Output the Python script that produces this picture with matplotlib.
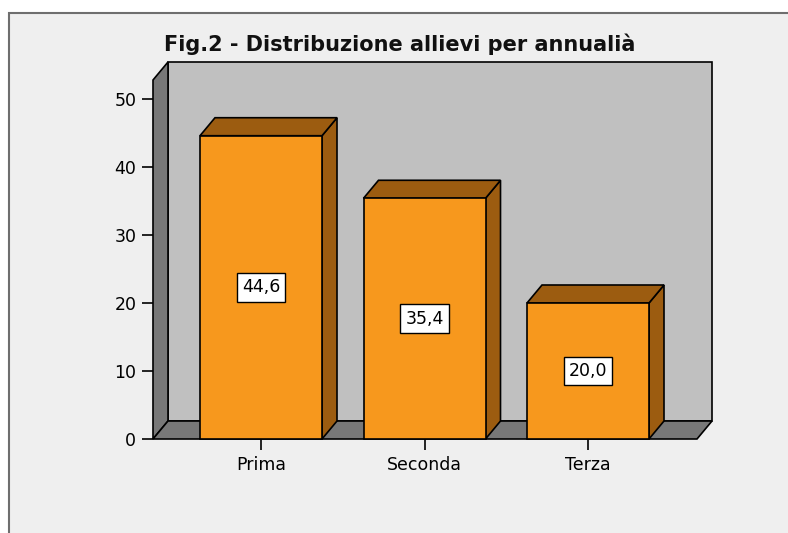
import matplotlib.pyplot as plt
from matplotlib.patches import Polygon, Rectangle

categories = ["Prima", "Seconda", "Terza"]
values = [44.6, 35.4, 20.0]
labels = ["44,6", "35,4", "20,0"]
yticks = [0, 10, 20, 30, 40, 50]
title = "Fig.2 - Distribuzione allievi per annualià"

W, H = 788, 533
fig = plt.figure(figsize=(W / 100, H / 100), dpi=100)
fig.patch.set_facecolor("white")

# outer frame of the chart
frame = Rectangle((9 / W, -0.01), 1.0, (H - 13) / H + 0.01,
                  transform=fig.transFigure, facecolor="#efefef",
                  edgecolor="#6e6e6e", lw=1.5, zorder=-10)
fig.patches.append(frame)

# axes = front plane of the 3d box
x0, x1 = 153, 697
y0, y1 = 439, 80
ax = fig.add_axes([x0 / W, (H - y0) / H, (x1 - x0) / W, (y0 - y1) / H])
ax.set_facecolor("none")
step = 163.5
xmin = -(261 - x0) / step
xmax = 2 + (x1 - 588) / step
ppu = (439 - 99) / 50.0
ymax = (y0 - y1) / ppu
ax.set_xlim(xmin, xmax)
ax.set_ylim(0, ymax)

dx = 15 / step
dy = 18 / ppu
wall = "#787878"
kw = dict(clip_on=False, lw=1.2, edgecolor="black", joinstyle="miter")

# back wall, side wall, floor
ax.add_patch(Polygon([(xmin + dx, dy), (xmax + dx, dy), (xmax + dx, ymax + dy),
                      (xmin + dx, ymax + dy)], facecolor="#c0c0c0", **kw))
ax.add_patch(Polygon([(xmin, 0), (xmin + dx, dy), (xmin + dx, ymax + dy),
                      (xmin, ymax)], facecolor=wall, **kw))
ax.add_patch(Polygon([(xmin, 0), (xmax, 0), (xmax + dx, dy), (xmin + dx, dy)],
                     facecolor=wall, **kw))

bw = 122 / step
for i, v in enumerate(values):
    l, r = i - bw / 2, i + bw / 2
    ax.add_patch(Polygon([(r, 0), (r + dx, dy), (r + dx, v + dy), (r, v)],
                         facecolor="#9c5c10", **kw))
    ax.add_patch(Polygon([(l, v), (r, v), (r + dx, v + dy), (l + dx, v + dy)],
                         facecolor="#9c5c10", **kw))
    ax.add_patch(Rectangle((l, 0), bw, v, facecolor="#f7981d", **kw))
    ax.text(i, v / 2, labels[i], ha="center", va="center", fontsize=12.5,
            color="black",
            bbox=dict(boxstyle="square,pad=0.3", facecolor="white",
                      edgecolor="black", lw=1))

for s in ["top", "right", "bottom", "left"]:
    ax.spines[s].set_visible(False)
ax.set_xticks(range(len(categories)))
ax.set_xticklabels(categories, fontsize=12.5)
ax.set_yticks(yticks)
ax.set_yticklabels([str(t) for t in yticks], fontsize=12.5)
ax.tick_params(axis="both", length=8, width=1.2, color="black", pad=4)

fig.text(400 / W, (H - 44) / H, title, ha="center", va="center",
         fontsize=15, fontweight="bold", color="#111111")

fig.savefig("out.png", dpi=100, facecolor=fig.get_facecolor())
